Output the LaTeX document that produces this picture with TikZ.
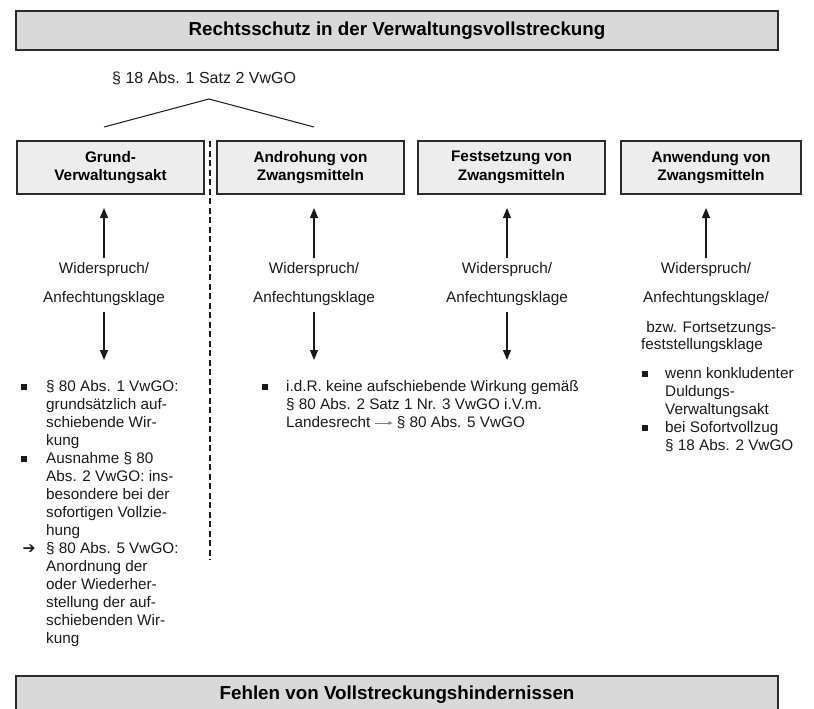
\documentclass[tikz,border=0pt]{standalone}
\usepackage{fontspec}
\setmainfont{Liberation Sans}
\newfontfamily\symfont{DejaVu Sans}
\usetikzlibrary{arrows.meta}

\definecolor{titlefill}{HTML}{D9D9D9}
\definecolor{boxfill}{HTML}{ECEDEC}
\definecolor{edge}{HTML}{2B2B2B}
\definecolor{ink}{HTML}{1A1A1A}

\tikzset{
  banner/.style={draw=edge, line width=1.3pt, fill=titlefill, minimum width=762pt,
    minimum height=39pt, inner sep=0pt, font=\fontsize{18.8}{21}\selectfont\bfseries},
  stagebox/.style={draw=edge, line width=1.2pt, fill=boxfill, minimum height=53pt,
    inner sep=0pt, align=center, font=\fontsize{15.3}{18.5}\selectfont\bfseries},
  txt/.style={inner sep=0pt, text=ink, font=\fontsize{15.3}{18}\selectfont},
  lline/.style={txt, anchor=base west},
  cline/.style={txt, anchor=base},
  sq/.style={fill=ink, minimum size=5.5pt, inner sep=0pt},
  arr/.style={draw=ink, line width=1.1pt, -{Triangle[length=10pt,width=8pt]}},
  smallarr/.style={draw=gray, line width=0.7pt, -{Triangle[length=4pt,width=3.5pt]}},
  roof/.style={draw=ink, line width=1pt},
  divider/.style={draw=ink, line width=1.6pt, dash pattern=on 6pt off 3.5pt},
}

\begin{document}
\begin{tikzpicture}[x=1pt, y=-1pt]
  \clip (0,0) rectangle (814,709);
  \fill[white] (0,0) rectangle (814,709);

  % heading
  \node[banner] (title) at (397,30.5) {Rechtsschutz in der Verwaltungsvollstreckung};

  % legal basis with the roof over the first two stages
  \node[lline, font=\fontsize{16}{18}\selectfont] (basis) at (112,83.5) {§ 18 Abs. 1 Satz 2 VwGO};
  \coordinate (roofL) at (104,127);
  \coordinate (apex) at (209,99);
  \coordinate (roofR) at (314,127);
  \draw[roof] (roofL) -- (apex) -- (roofR);

  % the four stages
  \node[stagebox, minimum width=187pt] (grund) at (110.5,167.5) {Grund-\\Verwaltungsakt};
  \node[stagebox, minimum width=187pt] (andr) at (310.5,167.5) {Androhung von\\Zwangsmitteln};
  \node[stagebox, minimum width=187pt] (fest) at (511.5,167.5) {Festsetzung von\\Zwangsmitteln};
  \node[stagebox, minimum width=180pt] (anw) at (711,167.5) {Anwendung von\\Zwangsmitteln};

  % dashed divider between the basic act and the enforcement stages
  \coordinate (divTop) at (210,141);
  \coordinate (divBot) at (210,560);
  \draw[divider] (divTop) -- (divBot);

  % remedies under each stage
  \foreach \n/\x in {a/104, b/314, c/507, d/706} {
    \node[cline] (wid\n) at (\x,273.5) {Widerspruch/};
    \coordinate (up\n s) at (\x,258);
    \coordinate (up\n e) at (\x,208);
    \draw[arr] (up\n s) -- (up\n e);
  }
  \foreach \n/\x in {a/104, b/314, c/507} {
    \node[cline] (anf\n) at (\x,302.5) {Anfechtungsklage};
    \coordinate (dn\n s) at (\x,312);
    \coordinate (dn\n e) at (\x,360);
    \draw[arr] (dn\n s) -- (dn\n e);
  }
  \node[cline] (anfd) at (706,302.5) {Anfechtungsklage/};
  \node[lline] (fortA) at (642,332.5) {\ bzw. Fortsetzungs-};
  \node[lline] (fortB) at (641,349.5) {feststellungsklage};

  % first column: suspensive effect
  \foreach \t [count=\i from 0] in {
      § 80 Abs. 1 VwGO:, grundsätzlich auf-, schiebende Wir-, kung,
      Ausnahme § 80, Abs. 2 VwGO: ins-, besondere bei der, sofortigen Vollzie-, hung,
      § 80 Abs. 5 VwGO:, Anordnung der, oder Wiederher-, stellung der auf-,
      schiebenden Wir-, kung} {
    \node[lline] (ga\i) at (46,391.5+18*\i) {\t};
  }
  \node[sq] (gb1) at (24,387) {};
  \node[sq] (gb2) at (24,459) {};
  \node[txt, anchor=base, font=\symfont\bfseries\fontsize{15.5}{17}\selectfont] (garr) at (29,553) {➔};

  % second column: enforcement measures
  \node[sq] (mb1) at (265,387) {};
  \node[lline] (m0) at (286,391.5) {i.d.R. keine aufschiebende Wirkung gemäß};
  \node[lline] (m1) at (286,409.5) {§ 80 Abs. 2 Satz 1 Nr. 3 VwGO i.V.m.};
  \node[lline] (m2a) at (286,427.5) {Landesrecht};
  \node[lline] (m2b) at ([xshift=26pt]m2a.base east) {§ 80 Abs. 5 VwGO};
  \draw[smallarr] ([xshift=4pt,yshift=4.5pt]m2a.base east) -- ([xshift=-4pt,yshift=4.5pt]m2b.base west);

  % fourth column: application of coercive means
  \node[sq] (ab1) at (645,374) {};
  \node[sq] (ab2) at (645,428) {};
  \foreach \t [count=\i from 0] in {wenn konkludenter, Duldungs-, Verwaltungsakt,
      bei Sofortvollzug, § 18 Abs. 2 VwGO} {
    \node[lline] (aw\i) at (665,378.5+18*\i) {\t};
  }

  % closing banner
  \node[banner, minimum height=38pt] (hind) at (397,695) {Fehlen von Vollstreckungshindernissen};
\end{tikzpicture}
\end{document}
